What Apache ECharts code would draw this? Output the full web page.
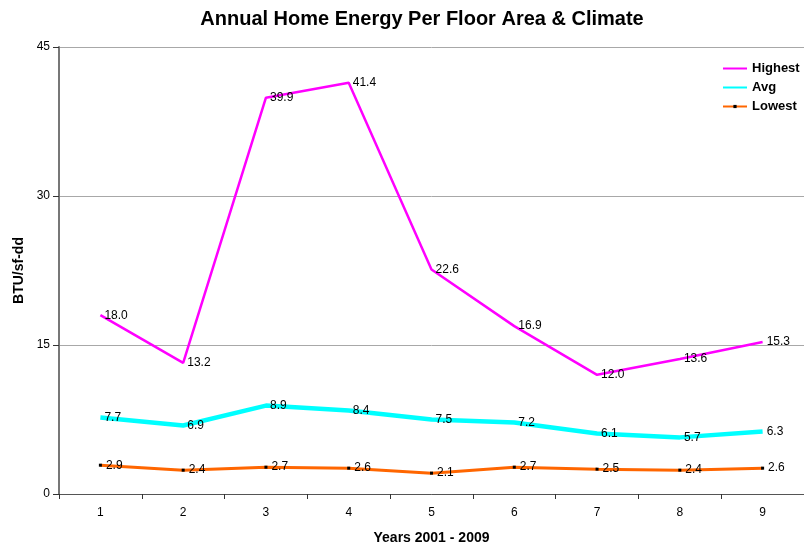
<!DOCTYPE html>
<html>
<head>
<meta charset="utf-8">
<script src="https://cdn.jsdelivr.net/npm/echarts@6/dist/echarts.min.js"></script>
<style>
  html, body { margin: 0; padding: 0; background: #fff; }
  #chart { width: 804px; height: 550px; }
</style>
</head>
<body>
<div id="chart"></div>
<script>
// Years 2001-2009, numbered 1..9
const years = ['1', '2', '3', '4', '5', '6', '7', '8', '9'];
const highest = [18.0, 13.2, 39.9, 41.4, 22.6, 16.9, 12.0, 13.6, 15.3];
const avg = [7.7, 6.9, 8.9, 8.4, 7.5, 7.2, 6.1, 5.7, 6.3];
const lowest = [2.9, 2.4, 2.7, 2.6, 2.1, 2.7, 2.5, 2.4, 2.6];
const yTicks = [0, 15, 30, 45];

const FONT = '"Liberation Sans", Arial, sans-serif';

const valueLabel = {
  show: true,
  position: 'right',
  distance: 4,
  color: '#000',
  fontSize: 12,
  fontFamily: FONT,
  formatter: p => p.value.toFixed(1)
};

const chart = echarts.init(document.getElementById('chart'), null, { renderer: 'canvas' });
chart.setOption({
  animation: false,
  backgroundColor: '#fff',
  title: {
    text: 'Annual Home Energy Per Floor Area & Climate',
    left: 417,
    textAlign: 'center',
    top: 4,
    textStyle: { fontFamily: FONT, fontSize: 20, fontWeight: 'bold', color: '#000' }
  },
  legend: {
    orient: 'vertical',
    left: 717,
    top: 57,
    itemWidth: 24,
    itemHeight: 4,
    itemGap: 6,
    textStyle: { fontFamily: FONT, fontSize: 13, fontWeight: 'bold', color: '#000' },
    data: [
      { name: 'Highest', itemStyle: { opacity: 0 } },
      { name: 'Avg', itemStyle: { opacity: 0 } },
      { name: 'Lowest' }
    ]
  },
  grid: { left: 59, right: -7, top: 47, bottom: 52, containLabel: false },
  xAxis: {
    type: 'category',
    data: years,
    boundaryGap: true,
    name: 'Years 2001 - 2009',
    nameLocation: 'middle',
    nameGap: 37,
    nameTextStyle: { fontFamily: FONT, fontSize: 14, fontWeight: 'bold', color: '#000' },
    axisLine: { lineStyle: { color: '#555', width: 1 } },
    axisTick: { show: true, length: 5, lineStyle: { color: '#333' } },
    axisLabel: { fontFamily: FONT, fontSize: 12, color: '#000', margin: 13 }
  },
  yAxis: {
    type: 'value',
    min: yTicks[0],
    max: yTicks[yTicks.length - 1],
    interval: 15,
    name: 'BTU/sf-dd',
    nameLocation: 'middle',
    nameGap: 31,
    nameTextStyle: { fontFamily: FONT, fontSize: 14, fontWeight: 'bold', color: '#000' },
    axisLine: { show: true, lineStyle: { color: '#777', width: 2 } },
    axisTick: { show: true, length: 6, lineStyle: { color: '#333' } },
    axisLabel: { fontFamily: FONT, fontSize: 12, color: '#000', margin: 9 },
    splitLine: { show: true, lineStyle: { color: '#a8a8a8', width: 1 } }
  },
  series: [
    {
      name: 'Highest',
      type: 'line',
      data: highest,
      symbol: 'circle',
      symbolSize: 0.1,
      showSymbol: true,
      lineStyle: { color: '#ff00ff', width: 2.5 },
      itemStyle: { color: '#ff00ff' },
      label: valueLabel,
      z: 3
    },
    {
      name: 'Avg',
      type: 'line',
      data: avg,
      symbol: 'circle',
      symbolSize: 0.1,
      showSymbol: true,
      lineStyle: { color: '#00ffff', width: 4.5 },
      itemStyle: { color: '#00ffff' },
      label: valueLabel,
      z: 2
    },
    {
      name: 'Lowest',
      type: 'line',
      data: lowest,
      symbol: 'rect',
      symbolSize: 3,
      lineStyle: { color: '#ff6600', width: 3 },
      itemStyle: { color: '#000' },
      label: valueLabel,
      z: 4
    }
  ]
});
</script>
</body>
</html>
